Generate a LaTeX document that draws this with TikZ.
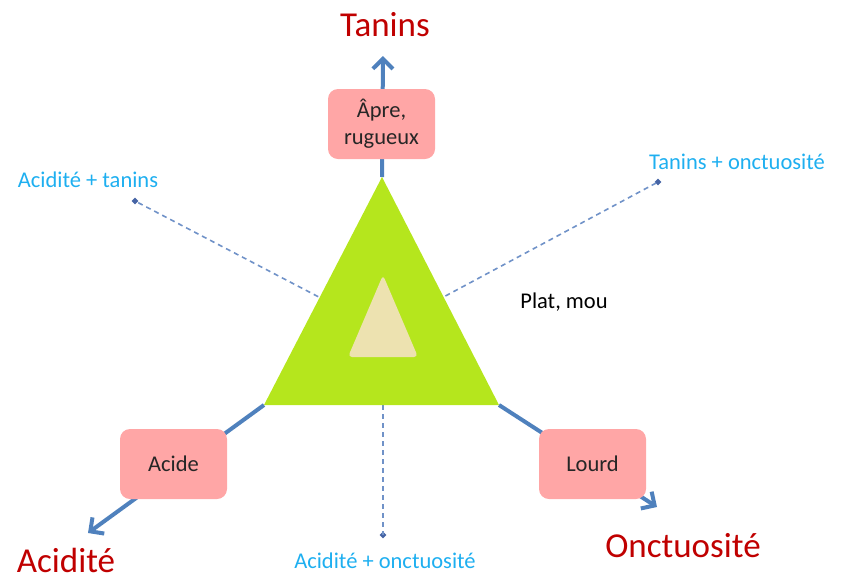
\documentclass[tikz,border=0pt]{standalone}
\usepackage{fontspec}
\setmainfont{Carlito}
\usetikzlibrary{arrows.meta,shapes.geometric}
\definecolor{axisblue}{RGB}{79,129,189}
\definecolor{dashblue}{RGB}{112,146,200}
\definecolor{dotblue}{RGB}{70,100,165}
\definecolor{lblblue}{RGB}{30,175,240}
\definecolor{titlered}{RGB}{192,0,0}
\definecolor{boxpink}{RGB}{255,166,166}
\definecolor{trigreen}{RGB}{181,230,29}
\definecolor{innertan}{RGB}{237,226,176}
\tikzset{
  axisline/.style={draw=axisblue,line width=4pt,-{Straight Barb[length=10pt,width=20pt,line width=4pt]}},
  dashline/.style={draw=dashblue,line width=1.6pt,dash pattern=on 5pt off 4pt},
  dotmark/.style={diamond,fill=dotblue,inner sep=0pt,minimum size=7pt},
  pinkbox/.style={fill=boxpink,rounded corners=10pt,minimum width=107pt,minimum height=70pt,inner sep=0pt,align=center,font=\fontsize{22.5}{27}\selectfont,text=black!85},
  bigtitle/.style={text=titlered,font=\fontsize{35}{40}\selectfont,inner sep=0pt},
  bluelabel/.style={text=lblblue,font=\fontsize{22.5}{27}\selectfont,inner sep=0pt},
  blacklabel/.style={text=black,font=\fontsize{22.5}{27}\selectfont,inner sep=0pt}
}
\begin{document}
\begin{tikzpicture}[x=1pt,y=-1pt]
\useasboundingbox (0,0) rectangle (844,582);
% triangle corners
\coordinate (T) at (382,177);
\coordinate (L) at (264,405);
\coordinate (R) at (499,405);
\coordinate (C) at (382,330);
\coordinate (Bm) at (383,405);
% arrow tips
\coordinate (tipT) at (383,56);
\coordinate (tipL) at (88,533);
\coordinate (tipR) at (657,507);
% dashed lines with end dots
\node[dotmark] (dAT) at (135,201) {};
\node[dotmark] (dTO) at (658,182) {};
\node[dotmark] (dAO) at (383,535) {};
\draw[dashline] (C) -- (dAT.center);
\draw[dashline] (C) -- (dTO.center);
\draw[dashline] (Bm) -- (dAO.center);
% axes
\draw[axisline] (T) -- (tipT);
\draw[axisline] (L) -- (tipL);
\draw[axisline] (R) -- (tipR);
% triangles
\fill[trigreen] (T) -- (R) -- (L) -- cycle;
\fill[innertan,rounded corners=4pt] (383,275) -- (418,357) -- (348,357) -- cycle;
% boxes
\node[pinkbox] (bT) at (381.5,124) {Âpre,\\rugueux};
\node[pinkbox] (bL) at (173.5,464) {Acide};
\node[pinkbox] (bR) at (592.5,464) {Lourd};
% titles
\node[bigtitle] (tT) at (385,25) {Tanins};
\node[bigtitle] (tL) at (66,560) {Acidité};
\node[bigtitle] (tR) at (683,546) {Onctuosité};
% labels
\node[bluelabel] (lAT) at (88,180) {Acidité + tanins};
\node[bluelabel] (lTO) at (737,162) {Tanins + onctuosité};
\node[bluelabel] (lAO) at (385,561) {Acidité + onctuosité};
\node[blacklabel] (lPM) at (564,302) {Plat, mou};
\end{tikzpicture}
\end{document}
